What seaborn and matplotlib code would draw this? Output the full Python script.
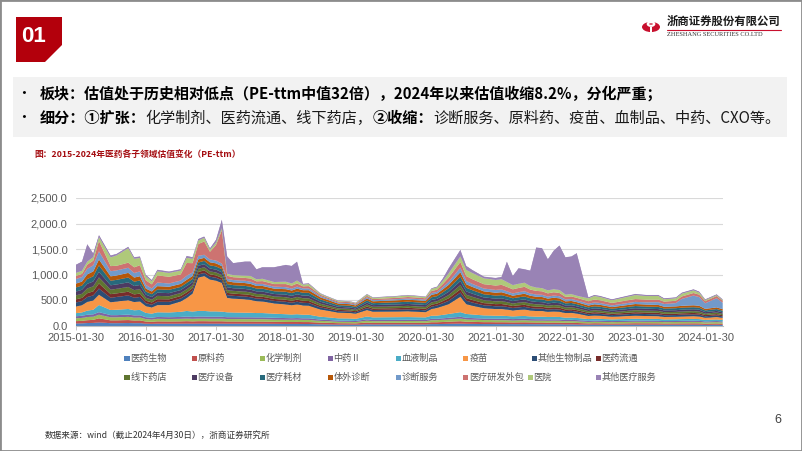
import numpy as np
import pandas as pd
import matplotlib
matplotlib.use("Agg")
import matplotlib.pyplot as plt
import matplotlib.dates as mdates
from matplotlib.patches import Rectangle, Polygon, Circle
import seaborn as sns
import seaborn.objects as so

# ---------------- data ----------------
months = ["2015-01","2015-02","2015-03","2015-04","2015-05","2015-07","2015-08","2015-10","2015-11","2015-12",
          "2016-01","2016-02","2016-03","2016-05","2016-07","2016-08","2016-09","2016-10","2016-11","2016-12",
          "2017-01","2017-02","2017-03","2017-04","2017-06","2017-07","2017-08","2017-09","2017-11","2018-01",
          "2018-02","2018-03","2018-04","2018-05","2018-07","2018-08","2018-10","2018-12","2019-01","2019-03",
          "2019-04","2019-08","2019-10","2019-12","2020-01","2020-02","2020-03","2020-04","2020-05","2020-07",
          "2020-08","2020-09","2020-11","2020-12","2021-01","2021-02","2021-03","2021-04","2021-05","2021-06",
          "2021-07","2021-08","2021-09","2021-10","2021-11","2021-12","2022-01","2022-02","2022-03","2022-05",
          "2022-06","2022-07","2022-09","2022-11","2023-01","2023-03","2023-05","2023-06","2023-08","2023-09",
          "2023-11","2023-12","2024-01","2024-03","2024-04"]

sectors = ["医药生物", "原料药", "化学制剂", "中药Ⅱ", "血液制品", "疫苗", "其他生物制品", "医药流通",
           "线下药店", "医疗设备", "医疗耗材", "体外诊断", "诊断服务", "医疗研发外包", "医院", "其他医疗服务"]

sector_colors = ["#4F81BD", "#C0504D", "#9BBB59", "#8064A2", "#4BACC6", "#F79646", "#2C4D75", "#772C2A",
                 "#5F7530", "#4D3B62", "#276A7C", "#B65708", "#729ACA", "#CD7371", "#AFC97A", "#9983B5"]

yiyao_shengwu = [50,52,58,60,70,55,55,58,55,56, 45,42,46,45,46,48,46,48,48,47, 47,47,45,45,44,44,44,44,42,40,
                 40,40,39,39,33,32,28,27,26,34, 31,32,32,31,31,37,37,40,42,47, 42,41,38,38,37,37,37,36,36,37,
                 36,35,35,34,34,34,31,32,30,26, 28,27,25,26,28,27,27,25,26,26, 27,26,23,25,23]
yuanliaoyao = [45,48,55,60,80,55,55,58,52,53, 42,40,44,43,44,46,44,46,46,45, 45,45,43,43,43,43,42,42,40,39,
               38,39,38,38,32,31,27,26,25,33, 30,30,31,30,30,36,36,38,41,46, 41,40,37,37,36,36,35,34,35,35,
               34,33,33,32,33,32,30,30,29,25, 26,26,24,25,26,26,25,24,24,25, 25,25,22,24,22]
huaxue_zhiji = [55,58,62,62,70,60,60,62,58,58, 48,45,50,48,50,52,50,52,52,51, 51,51,48,48,47,47,47,47,45,44,
                43,44,42,42,35,33,29,29,28,37, 33,34,35,35,33,40,40,43,46,52, 46,44,41,41,40,40,40,38,39,40,
                38,37,37,36,37,36,33,34,32,29, 30,29,27,29,30,29,29,27,28,29, 29,29,25,27,25]
zhongyao = [40,42,45,45,50,42,42,44,42,42, 36,34,37,36,37,38,37,38,38,37, 37,37,36,36,36,36,35,35,33,32,
            31,32,31,31,25,24,21,20,19,26, 24,24,24,24,24,27,27,29,31,35, 31,30,29,29,29,29,28,27,28,28,
            27,27,27,26,26,26,24,24,24,20, 21,21,19,20,21,21,21,19,19,20, 21,20,18,19,18]
xueye_zhipin = [60,65,80,90,140,100,105,110,100,105, 85,80,90,92,100,110,105,110,110,105, 105,100,95,92,90,88,85,85,80,75,
                72,75,70,70,55,52,45,45,42,55, 50,52,52,50,50,60,62,68,75,90, 75,70,62,60,58,58,55,52,55,56,
                52,50,50,48,48,48,44,45,42,35, 37,36,33,35,37,36,36,33,34,35, 36,35,30,33,30]
yimiao = [130,140,170,180,200,150,160,170,160,165, 130,120,140,145,200,250,350,650,680,620, 600,560,280,270,260,250,230,225,200,190,
          180,190,180,175,140,130,110,105,100,125, 110,110,112,105,100,130,150,170,190,300, 190,170,140,135,130,130,125,115,120,125,
          115,110,110,100,105,100,90,90,85,60, 62,60,52,55,58,55,52,48,48,50, 52,50,42,46,42]
qita_shengwu = [80,82,95,100,120,90,90,95,85,88, 60,55,65,62,60,62,60,62,62,58, 58,56,56,55,55,54,52,52,50,52,
                50,54,52,53,42,38,31,30,28,40, 35,38,39,39,38,48,48,57,66,83, 68,64,57,56,55,57,53,50,52,53,
                50,48,47,45,46,46,40,41,39,35, 38,37,33,36,40,39,38,35,35,36, 37,36,30,33,29]
yiyao_liutong = [60,62,75,80,100,70,70,72,65,66, 48,44,52,50,48,50,48,50,50,46, 46,44,44,43,43,42,40,41,38,40,
                 38,41,40,40,32,29,24,23,21,30, 27,29,30,29,29,37,37,43,50,63, 51,49,43,43,42,43,41,38,39,41,
                 38,37,36,34,36,35,30,31,29,27, 29,28,25,27,30,29,29,26,27,27, 28,27,23,25,22]
xianxia_yaodian = [78,80,93,98,118,88,89,93,84,86, 59,54,64,61,59,61,59,61,61,57, 57,55,55,54,54,53,51,51,49,51,
                   49,53,51,52,41,37,30,29,27,39, 34,37,38,38,37,47,47,56,65,82, 67,63,56,55,54,56,52,49,51,52,
                   49,47,46,44,45,45,39,40,38,34, 37,36,32,35,39,38,37,34,34,35, 36,35,29,32,28]
yiliao_shebei = [75,78,90,95,110,85,85,90,80,82, 58,52,62,60,58,60,58,60,60,56, 56,54,54,52,52,52,50,50,48,50,
                 48,51,50,51,40,36,30,29,27,38, 34,36,38,37,37,46,46,54,62,79, 64,61,54,53,53,54,51,48,50,51,
                 48,46,45,43,44,44,38,39,37,34, 36,36,31,35,38,37,37,33,34,35, 36,35,29,31,28]
yiliao_haocai = [80,82,95,100,125,90,90,95,85,88, 62,56,66,64,62,64,62,64,64,62, 62,62,62,60,60,58,55,57,54,55,
                 54,57,55,56,44,40,33,33,30,43, 38,41,43,42,42,53,53,62,70,89, 72,68,62,61,60,62,59,55,56,59,
                 55,53,53,49,52,50,43,44,42,39, 41,40,36,40,43,42,42,37,39,40, 40,40,33,36,32]
tiwai_zhenduan = [75,78,90,95,115,85,85,90,80,82, 58,52,62,60,58,60,58,60,60,60, 60,58,58,55,55,55,51,53,50,51,
                  50,53,51,52,40,37,31,30,28,39, 36,38,39,39,38,48,48,57,66,83, 67,64,57,56,55,57,53,49,51,53,
                  49,48,47,44,46,44,39,39,39,35, 38,37,32,36,39,39,38,34,35,36, 37,36,30,32,30]
zhenduan_fuwu = [90,90,110,120,160,100,100,100,90,95, 70,60,70,65,65,80,70,70,60,55, 55,50,45,45,45,45,40,40,40,40,
                 38,40,35,35,25,22,20,20,18,25, 22,23,25,25,25,35,35,45,60,90, 65,60,55,55,55,55,50,45,48,50,
                 45,45,43,40,42,42,38,38,36,35, 38,36,33,38,42,45,55,55,65,135, 190,170,110,180,125]
yanfa_waibao = [60,60,80,90,200,100,90,100,110,120, 90,80,140,130,120,250,180,230,260,150, 300,650,60,55,55,60,50,55,50,60,
                55,60,40,45,25,22,18,18,17,25, 22,25,28,28,27,40,42,60,80,110, 95,90,85,85,85,90,85,80,82,85,
                75,70,68,62,65,62,50,50,48,50, 55,53,48,52,55,52,50,45,45,48, 50,48,40,42,38]
yiyuan = [60,60,60,70,80,170,203,281,168,142, 80,60,80,75,75,100,85,70,70,40, 45,40,38,40,45,50,40,45,40,45,
          45,60,35,40,20,16,14,12,12,27, 24,28,30,25,23,40,46,61,85,109, 120,122,114,113,110,110,95,83,82,80,
          70,65,62,58,60,58,45,45,42,56, 70,65,53,65,78,70,70,48,49,55, 52,40,22,18,15]
qita_yiliao_fuwu = [160,181,340,73,40,38,30,30,30,30, 28,25,31,28,27,38,32,28,28,30, 60,170,340,236,275,282,197,227,290,330,
                    343,370,15,15,10,10,8,8,8,10, 10,10,10,10,10,13,15,50,100,130, 80,60,35,35,40,45,400,180,305,264,
                    302,783,781,610,756,871,730,737,831,20, 20,20,18,20,22,21,20,18,18,20, 21,20,15,16,14]

series_values = [yiyao_shengwu, yuanliaoyao, huaxue_zhiji, zhongyao, xueye_zhipin, yimiao, qita_shengwu,
                 yiyao_liutong, xianxia_yaodian, yiliao_shebei, yiliao_haocai, tiwai_zhenduan, zhenduan_fuwu,
                 yanfa_waibao, yiyuan, qita_yiliao_fuwu]

xtick_labels = ["2015-01-30", "2016-01-30", "2017-01-30", "2018-01-30", "2019-01-30",
                "2020-01-30", "2021-01-30", "2022-01-30", "2023-01-30", "2024-01-30"]
yticks = [0, 500, 1000, 1500, 2000, 2500]

for v in series_values:
    assert len(v) == len(months), len(v)

dates = pd.to_datetime([m + "-28" for m in months])
df = pd.concat([pd.DataFrame({"date": dates, "pe": vals, "sector": name})
                for name, vals in zip(sectors, series_values)], ignore_index=True)

# ---------------- style ----------------
sns.set_theme(style="white")
CJK = ["Noto Sans CJK SC", "DejaVu Sans"]
plt.rcParams["font.family"] = CJK

W, H = 802, 451
fig = plt.figure(figsize=(W / 100, H / 100), dpi=100)
fig.patch.set_facecolor("white")

def fx(x):
    return x / W

def fy(y):
    return 1 - y / H

# slide border
fig.add_artist(Rectangle((0, 0), 1, 1, transform=fig.transFigure, fill=False,
                         edgecolor="#8C8C8C", lw=2.0))

# "01" badge
badge = Polygon([(fx(16), fy(17)), (fx(62), fy(17)), (fx(62), fy(45)), (fx(45), fy(62)), (fx(16), fy(62))],
                closed=True, transform=fig.transFigure, facecolor="#B3000C", edgecolor="none")
fig.add_artist(badge)
fig.text(fx(33), fy(36), "01", color="white", fontsize=16, fontweight="bold",
         family=["Liberation Sans", "DejaVu Sans"], ha="center", va="center")

# logo
fig.add_artist(Circle((fx(651), fy(27)), 9 / W, transform=fig.transFigure, facecolor="#C8102E", edgecolor="none"))
fig.add_artist(Circle((fx(651), fy(24)), 3.2 / W, transform=fig.transFigure, facecolor="none",
                      edgecolor="white", lw=1.6))
fig.add_artist(Rectangle((fx(650), fy(33)), 2 / W, 6 / H, transform=fig.transFigure, facecolor="white",
                         edgecolor="none"))
fig.text(fx(667), fy(21), "浙商证券股份有限公司", fontsize=8.2, fontweight="bold", color="#1A1A1A",
         ha="left", va="center")
fig.add_artist(plt.Line2D([fx(667), fx(781)], [fy(29.5), fy(29.5)], transform=fig.transFigure,
                          color="#C8102E", lw=0.8))
fig.text(fx(667), fy(35), "ZHESHANG SECURITIES CO.LTD", fontsize=4.6, color="#333333",
         family=["Liberation Serif", "DejaVu Serif"], ha="left", va="center")

# summary box
fig.add_artist(Rectangle((fx(13), fy(137)), (787 - 13) / W, (137 - 77) / H, transform=fig.transFigure,
                         facecolor="#F2F2F2", edgecolor="none"))
renderer = fig.canvas.get_renderer()

def draw_runs(x, y, runs, size=10.8):
    for txt, bold in runs:
        t = fig.text(fx(x), fy(y), txt, fontsize=size, fontweight="bold" if bold else "normal",
                     color="#000000" if bold else "#1A1A1A", ha="left", va="center", family=CJK)
        x += t.get_window_extent(renderer=renderer).width

fig.text(fx(24), fy(94), "•", fontsize=10.8, color="#000000", ha="center", va="center")
fig.text(fx(24), fy(118), "•", fontsize=10.8, color="#000000", ha="center", va="center")
draw_runs(40, 94, [("板块：估值处于历史相对低点（PE-ttm中值32倍），2024年以来估值收缩8.2%，分化严重；", True)])
draw_runs(40, 118, [("细分：①扩张：", True), ("化学制剂、医药流通、线下药店，", False),
                    ("②收缩：", True), ("诊断服务、原料药、疫苗、血制品、中药、CXO等。", False)], size=10.9)

# chart title
fig.text(fx(34), fy(155), "图：2015-2024年医药各子领域估值变化（PE-ttm）", fontsize=6.3, fontweight="bold",
         color="#A50E12", ha="left", va="center")

# ---------------- chart ----------------
ax = fig.add_axes([fx(76), fy(326), (723 - 76) / W, (326 - 198) / H])
ax.set_facecolor("white")

palette = dict(zip(sectors, sector_colors))
(
    so.Plot(df, x="date", y="pe", color="sector")
    .add(so.Area(alpha=1, edgewidth=0.35), so.Stack(), legend=False)
    .scale(color=palette)
    .on(ax)
    .plot()
)

ax.set_xlabel("")
ax.set_ylabel("")
ax.set_facecolor("white")
ax.set_xlim(mdates.date2num(dates.min()), mdates.date2num(pd.Timestamp("2024-04-30")))
ax.set_ylim(0, 2500)
ax.set_xticks([mdates.date2num(pd.Timestamp(s)) for s in xtick_labels])
ax.set_xticklabels(xtick_labels, fontsize=8, color="#595959", family=["Liberation Sans", "DejaVu Sans"])
ax.set_yticks(yticks)
ax.set_yticklabels([f"{v:,.1f}" for v in yticks], fontsize=8, color="#595959",
                   family=["Liberation Sans", "DejaVu Sans"])
ax.tick_params(axis="x", length=3, width=0.6, color="#BFBFBF", pad=2, direction="out", bottom=True)
ax.tick_params(axis="y", length=0, pad=6, left=False)
ax.yaxis.grid(True, color="#D9D9D9", lw=0.8)
ax.xaxis.grid(False)
ax.set_axisbelow(True)
for side in ["top", "right", "left"]:
    ax.spines[side].set_visible(False)
ax.spines["bottom"].set_visible(True)
ax.spines["bottom"].set_color("#BFBFBF")
ax.spines["bottom"].set_linewidth(0.8)

# legend (manual, two rows)
legend_x = [127, 194, 262, 330, 398, 466, 534, 598,
            127, 194, 262, 330, 398, 466, 530, 598]
legend_y = [358] * 8 + [377] * 8
for name, col, lx, ly in zip(sectors, sector_colors, legend_x, legend_y):
    fig.add_artist(Rectangle((fx(lx - 2.5), fy(ly + 2.5)), 5 / W, 5 / H, transform=fig.transFigure,
                             facecolor=col, edgecolor="none"))
    fig.text(fx(lx + 3.5), fy(ly), name, fontsize=6.6, color="#595959", ha="left", va="center", family=CJK)

# footer
fig.text(fx(45), fy(435), "数据来源：wind（截止2024年4月30日），浙商证券研究所", fontsize=6.2,
         color="#333333", ha="left", va="center")
fig.text(fx(778), fy(420), "6", fontsize=9, color="#404040", ha="center", va="center",
         family=["Liberation Sans", "DejaVu Sans"])

fig.savefig("out.png", dpi=100, facecolor="white")
